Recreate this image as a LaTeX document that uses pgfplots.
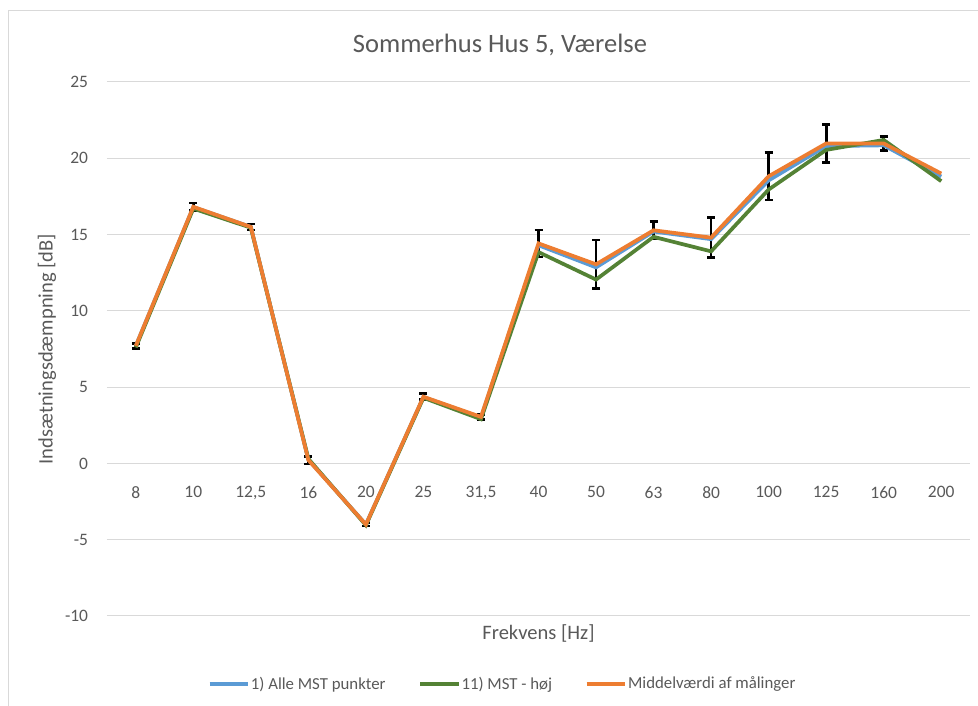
\documentclass[border=0pt]{standalone}
\usepackage{pgfplots}
\pgfplotsset{compat=1.18}
\usepackage{fontspec}
\setmainfont{Carlito}
\definecolor{txt}{HTML}{595959}
\definecolor{gridc}{HTML}{D9D9D9}
\definecolor{cblue}{HTML}{5B9BD5}
\definecolor{cgreen}{HTML}{548235}
\definecolor{corange}{HTML}{ED7D31}
\pgfplotstableread{
x blue green orange err
0 7.70 7.60 7.70 0.18
1 16.80 16.70 16.82 0.25
2 15.50 15.45 15.50 0.20
3 0.25 0.30 0.22 0.25
4 -4.00 -4.05 -4.00 0.10
5 4.35 4.30 4.37 0.20
6 3.00 2.90 3.05 0.15
7 14.30 13.85 14.42 0.88
8 12.85 12.05 13.05 1.60
9 15.20 14.85 15.28 0.58
10 14.70 13.90 14.80 1.30
11 18.55 17.95 18.82 1.55
12 20.80 20.55 20.97 1.25
13 20.85 21.20 20.97 0.45
14 18.80 18.50 19.00 0.00
}\data
\begin{document}
\begin{tikzpicture}[x=1pt,y=1pt]
\path[use as bounding box] (-80.25,-67.5) rectangle (653.25,462);
\draw[gridc, line width=0.75pt] (-73.5,-67.5) -- (-73.5,453.75) -- (653.25,453.75);
\begin{axis}[
  at={(0,0)}, anchor=south west,
  scale only axis, width=647.25pt, height=400.5pt,
  xmin=-0.5, xmax=14.5, ymin=-10, ymax=25,
  axis x line=middle, axis y line=left,
  x axis line style={-, draw=gridc, line width=0.75pt},
  y axis line style={draw=none},
  xtick={0,...,14},
  xticklabels={8,10,{12,5},16,20,25,{31,5},40,50,63,80,100,125,160,200},
  ytick={-10,-5,...,25},
  major tick length=0pt,
  ymajorgrids, grid style={draw=gridc, line width=0.75pt},
  /pgf/number format/assume math mode=true,
  tick label style={font=\fontsize{13.1}{15}\selectfont, text=txt},
  xticklabel style={inner sep=0pt, anchor=north, yshift=-17pt},
  yticklabel style={inner sep=0pt, anchor=east, xshift=-14pt},
  every axis x label/.style={at={(axis description cs:0.5,0)}, anchor=center, yshift=-12.75pt},
  every axis y label/.style={at={(axis description cs:0,0.5)}, rotate=90, anchor=center, yshift=45pt},
  xlabel={Frekvens [Hz]}, ylabel={Indsætningsdæmpning [dB]},
  label style={font=\fontsize{15.4}{18}\selectfont, text=txt},
  title={Sommerhus Hus 5, Værelse},
  title style={at={(axis description cs:0.5,1)}, anchor=center, xshift=-28.9pt, yshift=21.75pt, font=\fontsize{19.9}{23}\selectfont, text=txt},
  legend columns=3,
  legend style={at={(axis description cs:0.5,0)}, anchor=center, xshift=-27.4pt, yshift=-51pt, draw=none, fill=none,
    font=\fontsize{12.6}{15}\selectfont, text=txt, nodes={inner sep=0.6pt},
    /tikz/every even column/.append style={column sep=24pt}},
  legend image code/.code={\draw[#1] (0pt,0pt) -- (29pt,0pt);},
  every axis plot/.append style={line width=2.8pt, mark=none},
]
\addplot[forget plot, draw=none, restrict x to domain=0:13, error bars/.cd, y dir=both, y explicit,
  error bar style={draw=black, line width=2pt},
  error mark options={draw=black, line width=2pt, rotate=90, mark size=3pt}]
  table[x=x, y=orange, y error=err] {\data};
\addplot[cblue] table[x=x, y=blue] {\data};
\addlegendentry{1) Alle MST punkter}
\addplot[cgreen] table[x=x, y=green] {\data};
\addlegendentry{11) MST - høj}
\addplot[corange] table[x=x, y=orange] {\data};
\addlegendentry{Middelværdi af målinger}
\end{axis}
\end{tikzpicture}
\end{document}
